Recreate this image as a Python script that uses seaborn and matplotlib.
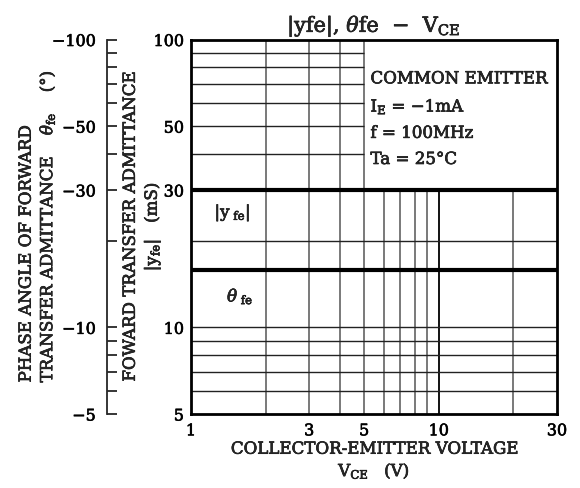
import numpy as np
import matplotlib
matplotlib.use("Agg")
import matplotlib.pyplot as plt
import matplotlib.patheffects as pe
import seaborn as sns

# Curve data: |yfe| and theta_fe against collector-emitter voltage
vce = [1, 30]
yfe_ms = [30, 30]
theta_deg = [-15.8, -15.8]

# Axis ticks
x_ticks = [1, 3, 5, 10, 30]
y_ticks = [5, 10, 30, 50, 100]
phase_ticks = [-100, -50, -30, -10, -5]
phase_minor = [-90, -80, -70, -60, -40, -20, -9, -8, -7, -6]

# Grid layout of the log-log chart paper
v_full = [2, 3, 4, 5]
v_lower = [6, 7, 8, 9, 20]
h_full = [6, 7, 8, 9, 10, 20]
h_left = [40, 50, 60, 70, 80, 90]

sns.set_style("white")
plt.rcParams["font.family"] = ["DejaVu Serif"]
plt.rcParams["mathtext.fontset"] = "dejavuserif"
plt.rcParams["axes.unicode_minus"] = True

FS = 12        # labels and annotations
FT = 11.5      # tick labels

fig = plt.figure(figsize=(5.8, 4.88), dpi=100)
ax = fig.add_axes([191 / 580, 1 - 414 / 488, 366 / 580, 374.5 / 488])
ax.set_xscale("log")
ax.set_yscale("log")
ax.set_xlim(1, 30)
ax.set_ylim(5, 100)

# Chart-paper grid
ax.vlines(v_full, 5, 100, colors="#555555", lw=1.1, zorder=1)
ax.vlines(v_lower, 5, 30, colors="#555555", lw=1.1, zorder=1)
ax.vlines([10], 5, 30, colors="black", lw=1.3, zorder=1)
ax.hlines(h_full, 1, 30, colors="#222222", lw=1.0, zorder=1)
ax.hlines(h_left, 1, 5, colors="#222222", lw=1.0, zorder=1)

# Condition box in the upper right
box_x = 5.3
ax.text(box_x, 73, "COMMON EMITTER", fontsize=FS, va="center", ha="left")
ax.text(box_x, 58.5, r"I$_{\rm E}$ = −1mA", fontsize=FS, va="center", ha="left")
ax.text(box_x, 47.2, "f = 100MHz", fontsize=FS, va="center", ha="left")
ax.text(box_x, 38.3, "Ta = 25°C", fontsize=FS, va="center", ha="left")

# |yfe| curve
sns.lineplot(x=vce, y=yfe_ms, ax=ax, color="black", lw=3, zorder=4)
ax.text(1.47, 25.0, r"|y$_{\rm\ fe}$|", fontsize=FS, ha="center", va="center")
ax.text(1.58, 12.8, r"$\theta_{\rm\ fe}$", fontsize=FS, ha="center", va="center")

ax.set_xticks(x_ticks)
ax.set_xticklabels([str(v) for v in x_ticks])
ax.set_yticks(y_ticks)
ax.set_yticklabels([str(v) for v in y_ticks])
ax.xaxis.set_minor_locator(matplotlib.ticker.NullLocator())
ax.yaxis.set_minor_locator(matplotlib.ticker.NullLocator())
ax.tick_params(axis="both", which="both", length=0, labelsize=FT, colors="black")
ax.tick_params(axis="y", pad=5)
ax.tick_params(axis="x", pad=6)
for sp in ax.spines.values():
    sp.set_linewidth(2)
    sp.set_color("black")
    sp.set_zorder(5)

ax.set_xlabel("COLLECTOR-EMITTER VOLTAGE\n" + r"V$_{\rm CE}$   (V)", fontsize=FS,
              linespacing=1.25, labelpad=1)
ax.set_ylabel("FOWARD TRANSFER ADMITTANCE\n" + r"|y$_{\rm fe}$|   (mS)", fontsize=FS,
              linespacing=1.2)
ax.yaxis.set_label_coords(-0.077, 0.5)
ax.set_title(r"|yfe|, $\theta$fe  −  V$_{\rm CE}$", fontsize=15, pad=5)

# Phase-angle axis on the far left, sharing the same log spacing
ax2 = ax.twinx()
ax2.set_yscale("function", functions=(lambda y: np.log10(np.abs(y)), lambda v: -10.0 ** v))
sns.lineplot(x=vce, y=theta_deg, ax=ax2, color="black", lw=3, zorder=4)
ax2.set_ylim(-100, -5)
ax2.yaxis.set_ticks_position("left")
ax2.yaxis.set_label_position("left")
for name in ["top", "right", "bottom"]:
    ax2.spines[name].set_visible(False)
ax2.spines["left"].set_position(("outward", 60.5))
ax2.spines["left"].set_linewidth(1.3)
ax2.set_yticks(phase_ticks)
ax2.set_yticklabels(["−" + str(-v) for v in phase_ticks])
ax2.set_yticks(phase_minor, minor=True)
ax2.yaxis.set_minor_formatter(matplotlib.ticker.NullFormatter())
ax2.tick_params(axis="y", which="both", direction="in", length=7, width=1.1,
                labelsize=FT, pad=8, colors="black")
ax2.set_ylabel("PHASE ANGLE OF FORWARD\n"
               + r"TRANSFER ADMITTANCE    $\theta_{\rm fe}$    (°)",
               fontsize=FS, linespacing=1.2, multialignment="left")
ax2.yaxis.set_label_coords(-0.366, 0.5)

# Slightly heavier strokes for all lettering
for t in fig.findobj(matplotlib.text.Text):
    t.set_path_effects([pe.withStroke(linewidth=0.45, foreground="black")])

fig.savefig("out.png", dpi=100, facecolor="white")
